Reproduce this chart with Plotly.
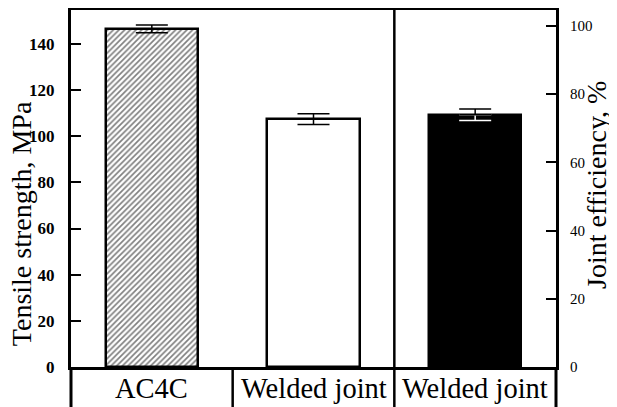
import plotly.graph_objects as go

categories = ["AC4C", "Welded joint", "Welded joint"]
positions = [0, 1, 2]
strength = [146.5, 107.4]          # MPa: AC4C, welded joint
strength_err = [1.7, 2.3]
efficiency = [74.0]                 # %: welded joint
efficiency_err = [1.7]
left_ticks = [0, 20, 40, 60, 80, 100, 120, 140]
right_ticks = [0, 20, 40, 60, 80, 100]

SERIF = "Liberation Serif"
BW = 0.57

fig = go.Figure()
fig.add_trace(go.Bar(
    x=[positions[0]], y=[strength[0]], width=BW,
    marker=dict(color="white", line=dict(color="black", width=2.5),
                pattern=dict(shape="/", size=4, solidity=0.42, fgcolor="black", bgcolor="white")),
    error_y=dict(type="data", array=[strength_err[0]], color="black", thickness=1.5, width=16),
    yaxis="y", showlegend=False))
fig.add_trace(go.Bar(
    x=[positions[1]], y=[strength[1]], width=BW,
    marker=dict(color="white", line=dict(color="black", width=2.5)),
    error_y=dict(type="data", array=[strength_err[1]], color="black", thickness=1.5, width=16),
    yaxis="y", showlegend=False))
fig.add_trace(go.Bar(
    x=[positions[2]], y=[efficiency[0]], width=BW,
    marker=dict(color="black", line=dict(color="black", width=2.5)),
    error_y=dict(type="data", array=[0], arrayminus=[efficiency_err[0]], color="white",
                 thickness=1.5, width=16),
    yaxis="y2", showlegend=False))
fig.add_trace(go.Scatter(
    x=[positions[2]], y=[efficiency[0]], mode="markers", marker=dict(size=1, opacity=0),
    error_y=dict(type="data", array=[efficiency_err[0]], arrayminus=[0], color="black",
                 thickness=1.5, width=16),
    yaxis="y2", showlegend=False, hoverinfo="skip"))

# page body has an 8px default margin; compensate so the frame lands where intended
OFF = 8
W, H = 617 - OFF, 407 - OFF
ml, mt = 71 - OFF, 10 - OFF
pw, ph = 485, 357
mr = W - ml - pw
mb = H - mt - ph
below = -mb / ph

shapes = []
for xp in (0, 1):
    shapes.append(dict(type="line", xref="paper", yref="paper", x0=xp, x1=xp, y0=0, y1=below - 0.05,
                       line=dict(color="black", width=3)))
n = len(categories)
shapes.append(dict(type="line", xref="paper", yref="paper", x0=2 / n, x1=2 / n, y0=1, y1=below - 0.05,
                   line=dict(color="black", width=2.5)))
shapes.append(dict(type="line", xref="paper", yref="paper", x0=1 / n, x1=1 / n, y0=0, y1=below - 0.05,
                   line=dict(color="black", width=2.5)))

annotations = [
    dict(text="Tensile strength, MPa", xref="paper", yref="paper", x=-(71 - 21) / pw, y=0.40,
         textangle=-90, showarrow=False, xanchor="center", yanchor="middle",
         font=dict(family=SERIF, size=28, color="black")),
    dict(text="Joint efficiency, %", xref="paper", yref="paper", x=1 + (597 - 556) / pw, y=0.51,
         textangle=-90, showarrow=False, xanchor="center", yanchor="middle",
         font=dict(family=SERIF, size=28, color="black")),
]
for p, c in zip(positions, categories):
    annotations.append(dict(text=c, xref="x", yref="paper", x=p, y=-(388 - 367) / ph,
                            showarrow=False, xanchor="center", yanchor="middle",
                            font=dict(family=SERIF, size=28.5, color="black")))

fig.update_layout(
    width=W, height=H, margin=dict(l=ml, r=mr, t=mt, b=mb, autoexpand=False),
    paper_bgcolor="white", plot_bgcolor="white",
    barmode="overlay", bargap=0,
    font=dict(family=SERIF, color="black"),
    shapes=shapes, annotations=annotations,
    xaxis=dict(range=[-0.5, 2.5], tickvals=positions, showticklabels=False, ticks="",
               showgrid=False, zeroline=False, showline=True, mirror=True, linecolor="black", linewidth=3,
               automargin=False),
    yaxis=dict(range=[0, 154.7], tickvals=left_ticks, ticks="inside", ticklen=10, tickwidth=1.5,
               tickcolor="black", showgrid=False, zeroline=False, showline=True, mirror=True,
               linecolor="black", linewidth=3, automargin=False,
               tickfont=dict(family=SERIF, size=17, weight="bold", color="black"), ticklabelstandoff=10),
    yaxis2=dict(range=[0, 104.7], tickvals=right_ticks, ticks="inside", ticklen=10, tickwidth=1.5,
                tickcolor="black", overlaying="y", side="right", showgrid=False, zeroline=False,
                showline=False, automargin=False,
                tickfont=dict(family=SERIF, size=15, color="black"), ticklabelstandoff=13),
)

fig.write_html("out.html")
